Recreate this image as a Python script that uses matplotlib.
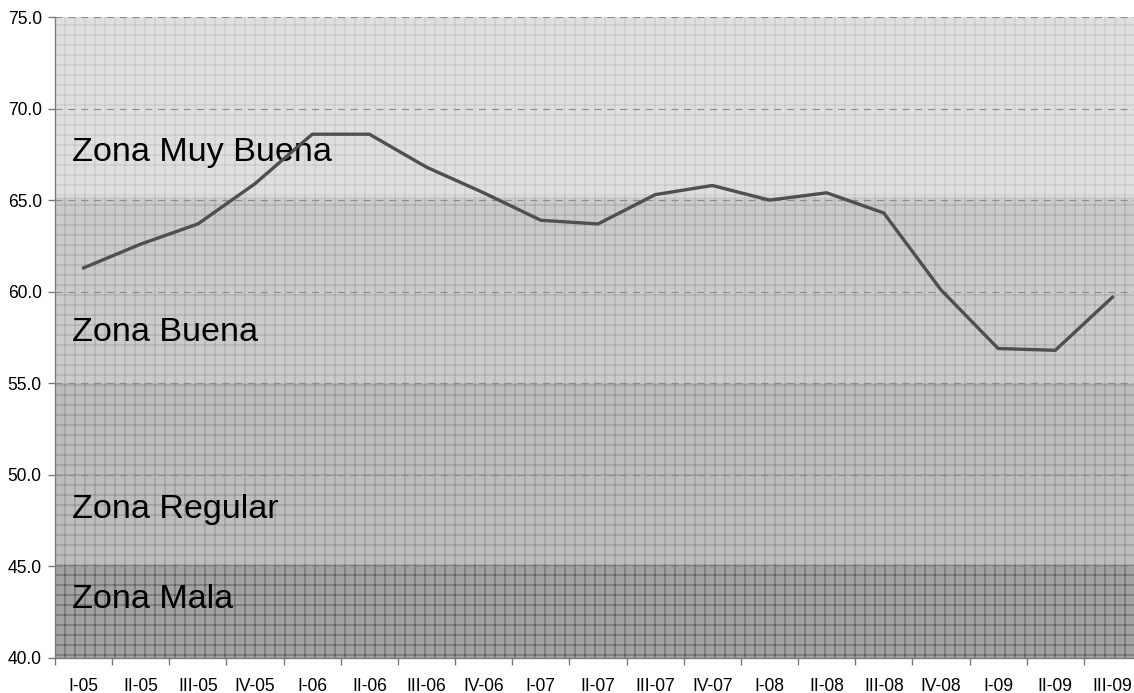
import matplotlib
matplotlib.use('Agg')
import matplotlib.pyplot as plt
import numpy as np

# --- data ---------------------------------------------------------
quarters = ['I-05', 'II-05', 'III-05', 'IV-05', 'I-06', 'II-06', 'III-06', 'IV-06',
            'I-07', 'II-07', 'III-07', 'IV-07', 'I-08', 'II-08', 'III-08', 'IV-08',
            'I-09', 'II-09', 'III-09']
index_values = [61.3, 62.6, 63.7, 65.9, 68.6, 68.6, 66.8, 65.4,
                63.9, 63.7, 65.3, 65.8, 65.0, 65.4, 64.3, 60.1,
                56.9, 56.8, 59.7]

zone_names = ['Zona Mala', 'Zona Regular', 'Zona Buena', 'Zona Muy Buena']
zone_lower = [40.0, 45.1, 55.0, 65.15]
zone_upper = [45.1, 55.0, 65.15, 75.0]
zone_label_y = [43.2, 48.1, 57.8, 67.6]
zone_face = ['#a3a3a3', '#bdbdbd', '#cbcbcb', '#dfdfdf']
zone_hatch = ['#5e5e5e', '#939393', '#a8a8a8', '#c6c6c6']

plt.rcParams['font.family'] = ['Liberation Sans', 'DejaVu Sans']
plt.rcParams['hatch.linewidth'] = 0.6

fig = plt.figure(figsize=(1134 / 120, 693 / 120), dpi=120)
fig.patch.set_facecolor('white')
# axes run slightly past the right edge of the picture, as in the original
ax = fig.add_axes([55 / 1134, 35 / 693, 1086 / 1134, 641 / 693])
ax.set_facecolor('white')

for lo, hi, fc, hc in zip(zone_lower, zone_upper, zone_face, zone_hatch):
    ax.axhspan(lo, hi, facecolor=fc, edgecolor=hc, hatch='++', linewidth=0, zorder=0)

for name, yy in zip(zone_names, zone_label_y):
    ax.text(0.016, yy, name, transform=ax.get_yaxis_transform(), fontsize=20.5,
            va='center', ha='left', color='black', zorder=3)

x = np.arange(len(quarters))
ax.plot(x, index_values, color='#4f4f4f', linewidth=2.0, solid_joinstyle='round', zorder=4)

ax.set_xlim(-0.5, len(quarters) - 0.5)
ax.set_ylim(40, 75)
ax.set_yticks(np.arange(40, 76, 5))
ax.set_yticklabels(['%.1f' % v for v in np.arange(40, 76, 5)])
ax.yaxis.grid(True, color='#8c8c8c', linestyle=(0, (6, 5)), linewidth=0.7, zorder=1)
ax.set_axisbelow(False)

ax.set_xticks(np.arange(-0.5, len(quarters), 1.0))
ax.set_xticklabels([])
ax.set_xticks(x, minor=True)
ax.set_xticklabels(quarters, minor=True)
ax.tick_params(axis='x', which='major', length=4, width=0.8, color='#777777', direction='out')
ax.tick_params(axis='x', which='minor', length=0, pad=12, labelsize=10.5)
ax.tick_params(axis='y', length=4, width=0.8, color='#777777', pad=4, labelsize=10.5)

for side in ['top', 'right']:
    ax.spines[side].set_visible(False)
for side in ['left', 'bottom']:
    ax.spines[side].set_color('#7a7a7a')
    ax.spines[side].set_linewidth(0.8)

plt.savefig('out.png', dpi=120)
